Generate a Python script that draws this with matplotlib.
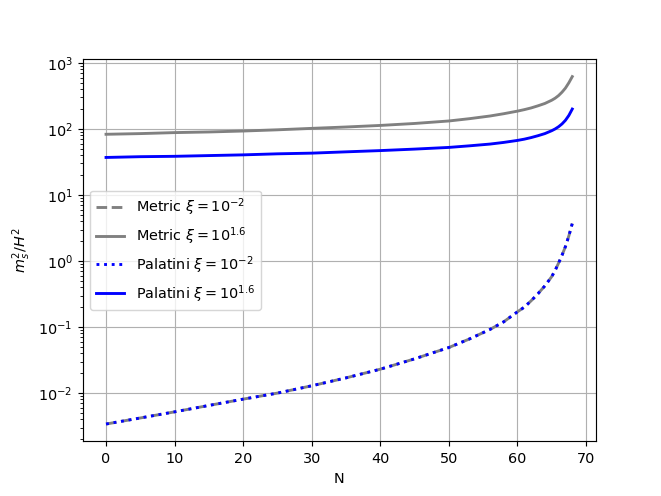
import numpy as np
import matplotlib.pyplot as plt

# e-folds N
N = [0, 5, 10, 15, 20, 25, 30, 35, 40, 45, 50, 53, 56, 58, 60, 61, 62, 63, 64, 65,
     65.5, 66, 66.5, 67, 67.5, 68]

# m_s^2 / H^2
metric_small = [3.4e-3, 4.2e-3, 5.2e-3, 6.5e-3, 8.1e-3, 1.0e-2, 1.29e-2, 1.7e-2, 2.3e-2, 3.3e-2,
                4.9e-2, 6.6e-2, 9.2e-2, 0.12, 0.17, 0.20, 0.25, 0.32, 0.42, 0.58,
                0.72, 0.93, 1.22, 1.65, 2.4, 3.7]
metric_large = [83, 85, 88, 90, 93, 97, 102, 107, 113, 121, 132, 143, 157, 170, 186, 196,
                208, 224, 243, 272, 292, 320, 360, 415, 500, 620]
palatini_small = [3.4e-3, 4.2e-3, 5.2e-3, 6.5e-3, 8.1e-3, 1.0e-2, 1.29e-2, 1.7e-2, 2.3e-2, 3.3e-2,
                  4.9e-2, 6.6e-2, 9.2e-2, 0.12, 0.17, 0.20, 0.25, 0.32, 0.42, 0.58,
                  0.72, 0.93, 1.22, 1.65, 2.4, 3.7]
palatini_large = [37, 38, 38.5, 39.5, 40.5, 42, 43, 45, 47, 49.5, 52.5, 55.5, 59, 62.5, 67, 70,
                  74, 79, 85, 94, 100, 108, 119, 135, 160, 200]

plt.figure(figsize=(6.4, 4.8), dpi=103.4)

plt.plot(N, metric_small, color='gray', linestyle='--', linewidth=2, label=r'Metric $\xi = 10^{-2}$')
plt.plot(N, metric_large, color='gray', linestyle='-', linewidth=2, label=r'Metric $\xi = 10^{1.6}$')
plt.plot(N, palatini_small, color='blue', linestyle=':', linewidth=2, label=r'Palatini $\xi = 10^{-2}$')
plt.plot(N, palatini_large, color='blue', linestyle='-', linewidth=2, label=r'Palatini $\xi = 10^{1.6}$')

plt.yscale('log')
plt.xlabel('N')
plt.ylabel(r'$m_s^2/H^2$')
plt.grid(True)
plt.legend(loc='center left')
plt.savefig("out.png", dpi=103.4)
